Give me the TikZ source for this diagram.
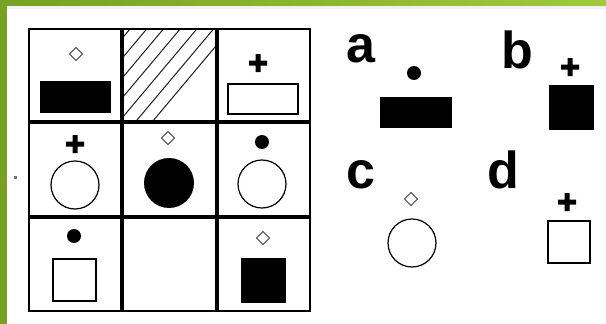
\documentclass[tikz,border=0pt]{standalone}
\usepackage{fontspec}
\setsansfont{Liberation Sans}
\definecolor{xanhLa}{RGB}{120,160,34}
\definecolor{xanhNhat}{RGB}{160,202,60}
\definecolor{xamNhat}{RGB}{242,242,246}
\definecolor{vachKe}{RGB}{30,30,30}
\definecolor{chamNho}{RGB}{110,115,150}

% Ky hieu nho: dau cong, hinh thoi, cham den
\newcommand{\dauCong}[1]{\fill[shift={(#1)}] (-9,-2.5) rectangle (9,2.5) (-2.5,-9) rectangle (2.5,9);}
\newcommand{\hinhThoi}[1]{\draw[line width=1pt, black!75, shift={(#1)}] (0,-6.5) -- (6.5,0) -- (0,6.5) -- (-6.5,0) -- cycle;}
\newcommand{\chamDen}[1]{\fill (#1) circle (7pt);}

\begin{document}
\begin{tikzpicture}[x=1pt, y=-1pt, line join=miter,
    chuCai/.style={font=\sffamily\bfseries\fontsize{52}{52}\selectfont, inner sep=0pt, anchor=base west},
    vien/.style={line width=1.5pt},
    duongTron/.style={line width=1.2pt}]
\useasboundingbox (0,0) rectangle (606,324);

% Khung xanh
\fill[white] (0,0) rectangle (606,324);
\shade[left color=xanhLa, right color=xanhNhat] (0,0) rectangle (606,6);
\fill[xamNhat] (7,6) rectangle (606,9);
\fill[xanhLa] (0,0) rectangle (7,324);
\fill[chamNho] (14,176) rectangle (17,179);

% O gach cheo
\begin{scope}
  \clip (122,29) rectangle (217,122);
  \foreach \x in {29.8,46.5,63.2,79.9,96.6,113.3,130,146.7,163.4,180.1,196.8,213.5,230.2}
    \draw[vachKe, line width=1pt] (\x,29) -- ++(-84,100);
\end{scope}

% Luoi 3x3
\draw[line width=2.2pt] (29,29) rectangle (310,311);
\draw[line width=3.2pt] (122,29) -- (122,311) (217,29) -- (217,311);
\draw[line width=3.2pt] (29,122) -- (310,122) (29,217) -- (310,217);

% Hang 1
\hinhThoi{76,54}
\fill (40,81) rectangle (111,113);
\dauCong{258,63}
\draw[vien] (228,84) rectangle (298,114);

% Hang 2
\dauCong{75,144}
\draw[duongTron] (75,185) circle (24pt);
\hinhThoi{168,138}
\fill (169,183) circle (25pt);
\chamDen{262,142}
\draw[duongTron] (262,184) circle (24pt);

% Hang 3
\chamDen{74,236}
\draw[vien] (53,259) rectangle (96,301);
\hinhThoi{263,238}
\fill (241,258) rectangle (286,303);

% Dap an a
\node[chuCai] (a) at (346,63) {a};
\chamDen{414,73}
\fill (380,97) rectangle (452,128);

% Dap an b
\node[chuCai] (b) at (501,68) {b};
\dauCong{570,67}
\fill (549,85) rectangle (594,130);

% Dap an c
\node[chuCai] (c) at (346,188) {c};
\hinhThoi{411,199}
\draw[duongTron] (412,243) circle (24pt);

% Dap an d
\node[chuCai] (d) at (487,188) {d};
\dauCong{567,202}
\draw[vien] (548,221) rectangle (590,263);
\end{tikzpicture}
\end{document}
